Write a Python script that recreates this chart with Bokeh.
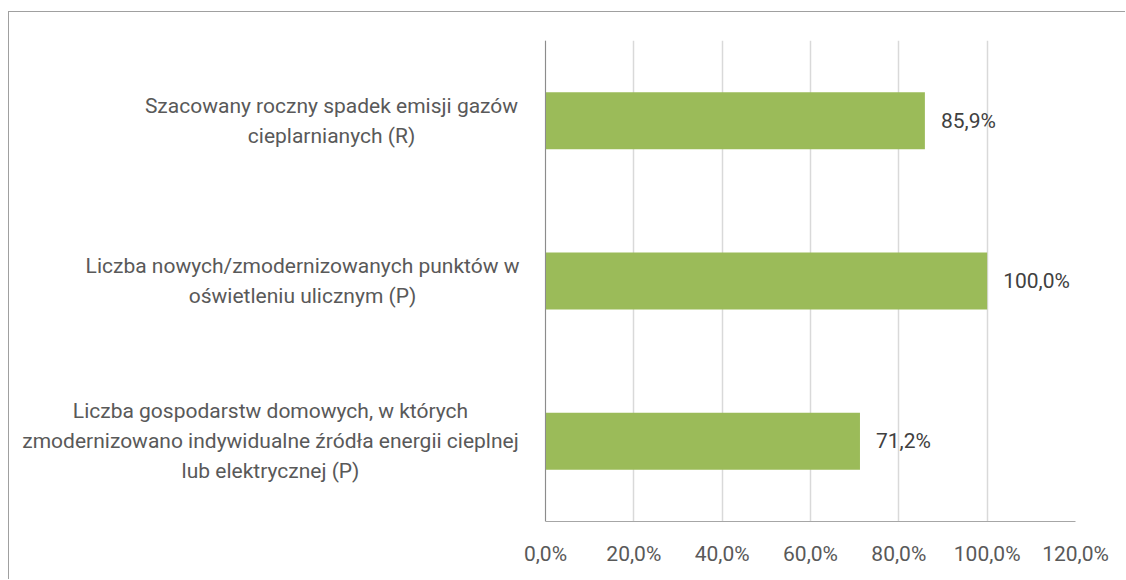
from bokeh.plotting import figure
from bokeh.models import FactorRange, ColumnDataSource, LabelSet, FixedTicker, Span
from bokeh.core.properties import value
from bokeh.embed import file_html
from bokeh.resources import INLINE

# data (top to bottom as in the picture)
categories = [
    "Szacowany roczny spadek emisji gazów\ncieplarnianych (R)",
    "Liczba nowych/zmodernizowanych punktów w\noświetleniu ulicznym (P)",
    "Liczba gospodarstw domowych, w których\nzmodernizowano indywidualne źródła energii cieplnej\nlub elektrycznej (P)",
]
values = [85.9, 100.0, 71.2]
value_labels = ["85,9%", "100,0%", "71,2%"]
x_ticks = [0, 20, 40, 60, 80, 100, 120]
x_tick_labels = ["0,0%", "20,0%", "40,0%", "60,0%", "80,0%", "100,0%", "120,0%"]

FONT = "Roboto"
FS = "21px"

# geometry: the value scale occupies 530 px, starting 536 px from the left edge;
# the frame is widened to the left so the centred category labels can live in it
W, H = 1117, 568
AXIS_LEFT_PX, AXIS_PX, RIGHT_PX = 536, 530, 51
xmax = x_ticks[-1]
px_per_unit = AXIS_PX / xmax
xmin = -AXIS_LEFT_PX / px_per_unit

p = figure(width=W, height=H, output_backend="svg", toolbar_location=None,
           y_range=FactorRange(factors=categories[::-1], range_padding=0),
           x_range=(xmin, xmax),
           min_border_left=0, min_border_right=RIGHT_PX, min_border_top=28, min_border_bottom=59)
p.styles = {"border-top": "1px solid #a0a0a0", "border-left": "1px solid #a0a0a0",
            "margin-left": "8px", "margin-top": "11px"}
p.outline_line_color = None
p.background_fill_color = "white"
p.border_fill_color = "white"

src = ColumnDataSource(dict(cat=categories, val=values, lab=value_labels))
p.hbar(y="cat", right="val", left=0, height=0.356, source=src,
       fill_color="#9BBB59", line_color=None)

# x axis limited to the value scale
p.xaxis.ticker = FixedTicker(ticks=x_ticks)
p.xaxis.bounds = (x_ticks[0], x_ticks[-1])
p.xaxis.major_label_overrides = {t: l for t, l in zip(x_ticks, x_tick_labels)}
p.xaxis.major_tick_out = 0
p.xaxis.major_tick_in = 0
p.xaxis.minor_tick_out = 0
p.xaxis.minor_tick_in = 0
p.xaxis.axis_line_color = "#a6a6a6"
p.xaxis.major_label_text_font = FONT
p.xaxis.major_label_text_font_size = FS
p.xaxis.major_label_text_color = "#595959"
p.xaxis.major_label_standoff = 20

p.xgrid.grid_line_color = "#d9d9d9"
p.xgrid.grid_line_width = 1.5
p.ygrid.grid_line_color = None

# category axis: line as a span at 0, labels as centred multi-line text
p.yaxis.visible = False
p.add_layout(Span(location=0, dimension="height", line_color="#8c8c8c", line_width=1))

label_centre_offsets = [214, 243, 275]   # px left of the value axis to each label block's centre
lab_src = ColumnDataSource(dict(cat=categories, off=[-o for o in label_centre_offsets]))
p.text(x=0, y="cat", text="cat", x_offset="off", source=lab_src,
       text_align="center", text_baseline="middle", text_line_height=1.25,
       text_font=value(FONT), text_font_size=value(FS), text_color="#595959")

p.add_layout(LabelSet(x="val", y="cat", text="lab", source=src, x_offset=16,
                      text_align="left", text_baseline="middle",
                      text_font=value(FONT), text_font_size=value(FS), text_color="#404040"))

open("out.html", "w").write(file_html(p, INLINE))
